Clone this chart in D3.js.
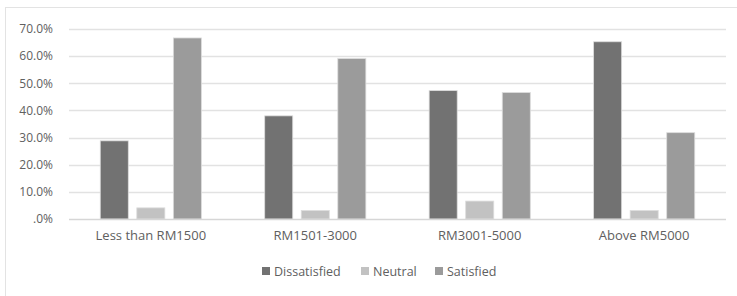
<!DOCTYPE html>
<html>
<head>
<meta charset="utf-8">
<script src="https://cdn.jsdelivr.net/npm/d3@7"></script>
<style>
  body { margin: 0; background: #fff; }
  text { font-family: "Open Sans", "Liberation Sans", sans-serif; fill: #606060; }
</style>
</head>
<body>
<div id="chart"></div>
<script>
// income groups and satisfaction shares (percent)
var categories = ["Less than RM1500", "RM1501-3000", "RM3001-5000", "Above RM5000"];
var seriesNames = ["Dissatisfied", "Neutral", "Satisfied"];
var dissatisfied = [28.8, 38.0, 47.3, 65.3];
var neutral = [4.1, 3.1, 6.6, 3.1];
var satisfied = [66.7, 59.1, 46.6, 31.8];
var yTicks = [0, 10, 20, 30, 40, 50, 60, 70];

var colors = {"Dissatisfied": "#727272", "Neutral": "#c2c2c2", "Satisfied": "#9b9b9b"};

var width = 737, height = 296;
var margin = {top: 29, right: 11, bottom: 77, left: 69};

var svg = d3.select("#chart").append("svg")
    .attr("width", width)
    .attr("height", height);

// outer chart frame
svg.append("rect")
    .attr("x", 5.5).attr("y", 7.5)
    .attr("width", 740).attr("height", 300)
    .attr("fill", "none")
    .attr("stroke", "#e3e3e3");

var g = svg.append("g")
    .attr("transform", "translate(" + margin.left + "," + margin.top + ")");

var w = width - margin.left - margin.right,
    h = height - margin.top - margin.bottom;

var x0 = d3.scaleBand().domain(categories).range([0, w]).paddingInner(0.385).paddingOuter(0.19);
var x1 = d3.scaleBand().domain(seriesNames).range([0, x0.bandwidth()]).paddingInner(0.233);
var y = d3.scaleLinear().domain([0, 70]).range([h, 0]);

// gridlines
g.selectAll(".grid")
    .data(yTicks.slice(1))
    .enter().append("line")
    .attr("x1", 0).attr("x2", w)
    .attr("y1", d => Math.round(y(d)) + 0.5)
    .attr("y2", d => Math.round(y(d)) + 0.5)
    .attr("stroke", "#e2e2e2")
    .attr("stroke-width", 1.5);

// y labels
var yAxis = d3.axisLeft(y).tickValues(yTicks).tickSize(0).tickPadding(16)
    .tickFormat(d => d === 0 ? ".0%" : d.toFixed(1) + "%");
var ya = g.append("g").call(yAxis);
ya.select(".domain").remove();
ya.selectAll("text").style("font-size", "12px").attr("fill", "#606060");

var data = categories.map(function(c, i) {
    return {cat: c, vals: [dissatisfied[i], neutral[i], satisfied[i]]};
});

var groups = g.selectAll(".grp")
    .data(data)
    .enter().append("g")
    .attr("transform", d => "translate(" + x0(d.cat) + ",0)");

groups.selectAll("rect")
    .data(d => d.vals.map((v, k) => ({name: seriesNames[k], v: v})))
    .enter().append("rect")
    .attr("x", d => x1(d.name))
    .attr("y", d => y(d.v))
    .attr("width", x1.bandwidth())
    .attr("height", d => h - y(d.v))
    .attr("fill", d => colors[d.name])
    .attr("stroke", "#dcdcdc")
    .attr("stroke-width", 0.8);

// x axis baseline
g.append("line")
    .attr("x1", 0).attr("x2", w)
    .attr("y1", h + 0.5).attr("y2", h + 0.5)
    .attr("stroke", "#d6d6d6")
    .attr("stroke-width", 1.5);

var xAxis = d3.axisBottom(x0).tickSize(0).tickPadding(12);
var xa = g.append("g").attr("transform", "translate(0," + h + ")").call(xAxis);
xa.select(".domain").remove();
xa.selectAll("text").style("font-size", "13px").attr("fill", "#606060");

// legend
var legend = svg.append("g").attr("transform", "translate(262,272)");
var offsets = [0, 99, 173];
seriesNames.forEach(function(s, i) {
    var item = legend.append("g").attr("transform", "translate(" + offsets[i] + ",0)");
    item.append("rect")
        .attr("x", 0).attr("y", -5)
        .attr("width", 8).attr("height", 8)
        .attr("fill", colors[s]);
    item.append("text")
        .attr("x", 12).attr("dy", "0.32em")
        .style("font-size", "12.5px")
        .text(s);
});
</script>
</body>
</html>
